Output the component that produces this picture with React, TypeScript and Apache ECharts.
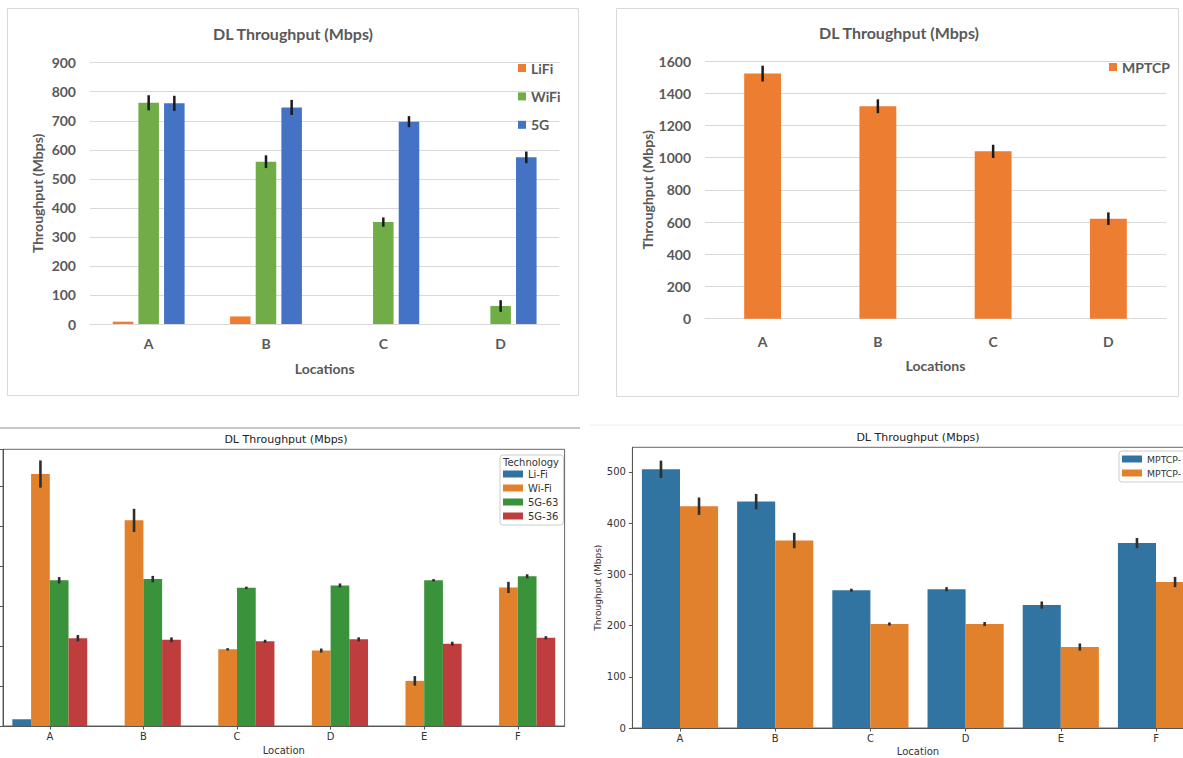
import React, { useEffect, useRef } from "react";
import * as echarts from "echarts";

// ---------- categories ----------
const locations4 = ["A", "B", "C", "D"];
const locations6 = ["A", "B", "C", "D", "E", "F"];

// ---------- panel 1 (top-left) ----------
const p1LiFi = [8, 26, 0, 0];
const p1WiFi = [762, 559, 351, 62];
const p1WiFiErr = [26, 22, 16, 20];
const p1FiveG = [760, 746, 697, 574];
const p1FiveGErr = [26, 26, 19, 20];
const p1Ticks = { min: 0, max: 900, interval: 100 };

// ---------- panel 2 (top-right) ----------
const p2Mptcp = [1522, 1319, 1039, 621];
const p2MptcpErr = [49, 43, 41, 39];
const p2Ticks = { min: 0, max: 1600, interval: 200 };

// ---------- panel 3 (bottom-left, tick labels cropped) ----------
const p3LiFi = [17, 0, 0, 0, 0, 0];
const p3WiFi = [631, 515, 192, 189, 113, 347];
const p3WiFiErr = [34, 29, 3, 5, 12, 14];
const p3G63 = [365, 368, 346, 352, 365, 375];
const p3G63Err = [8, 8, 3, 5, 3, 5];
const p3G36 = [220, 216, 212, 217, 206, 221];
const p3G36Err = [8, 6, 4, 5, 5, 4];
const p3Ticks = { min: 0, max: 693, interval: 100 };

// ---------- panel 4 (bottom-right) ----------
const p4First = [505, 442, 269, 271, 240, 361];
const p4FirstErr = [17, 15, 3, 4, 7, 10];
const p4Second = [433, 366, 203, 203, 158, 285];
const p4SecondErr = [17, 15, 3, 4, 7, 10];
const p4Ticks = { min: 0, max: 548, interval: 100 };

const TITLE = "DL Throughput (Mbps)";
const YNAME = "Throughput (Mbps)";

const XL = "Lato";
const MPL = "DejaVu Sans";
const xlText = { fontFamily: XL, fontSize: 14, fontWeight: "bold" as const, color: "#595959" };
const mplText = { fontFamily: MPL, fontSize: 10, color: "#333333" };

function errSeries(
  gridIdx: number,
  groups: { values: number[]; errs: number[]; slot: number }[],
  n: number,
  w: number,
  g: number,
  color: string,
  lw: number
) {
  const data: number[][] = [];
  groups.forEach((grp) => {
    grp.values.forEach((v, i) => {
      if (grp.errs[i] > 0 && v > 0) data.push([i, v, grp.errs[i], grp.slot]);
    });
  });
  return {
    type: "custom",
    xAxisIndex: gridIdx,
    yAxisIndex: gridIdx,
    z: 10,
    silent: true,
    encode: { x: 0, y: 1 },
    data,
    renderItem: (params: any, api: any) => {
      const i = api.value(0);
      const v = api.value(1);
      const e = api.value(2);
      const slot = api.value(3);
      const band = api.size([1, 0])[0];
      const bw = band * w;
      const gp = bw * g;
      const total = n * bw + (n - 1) * gp;
      const cx = api.coord([i, v])[0] - total / 2 + slot * (bw + gp) + bw / 2;
      const y1 = api.coord([i, v + e])[1];
      const y2 = api.coord([i, v - e])[1];
      return {
        type: "line",
        shape: { x1: cx, y1, x2: cx, y2 },
        style: { stroke: color, lineWidth: lw },
      };
    },
  };
}

function buildOption(): any {
  const bar = (name: string, data: number[], idx: number, color: string, barWidth: string, barGap: string) => ({
    type: "bar",
    name,
    data,
    xAxisIndex: idx,
    yAxisIndex: idx,
    barWidth,
    barGap,
    itemStyle: { color },
    silent: true,
  });

  const mplLegendText = { fontFamily: MPL, fontSize: 10, color: "#333333", lineHeight: 12 };
  const plain = (v: number) => String(v);

  return {
    animation: false,
    backgroundColor: "#ffffff",
    title: [
      { text: TITLE, left: 293, top: 33, textAlign: "center", textVerticalAlign: "middle", padding: 0, textStyle: { ...xlText, fontSize: 16 } },
      { text: TITLE, left: 899, top: 32, textAlign: "center", textVerticalAlign: "middle", padding: 0, textStyle: { ...xlText, fontSize: 16 } },
      { text: TITLE, left: 286, top: 439, textAlign: "center", textVerticalAlign: "middle", padding: 0, textStyle: { fontFamily: MPL, fontSize: 11, fontWeight: "normal", color: "#222222" } },
      { text: TITLE, left: 918, top: 437, textAlign: "center", textVerticalAlign: "middle", padding: 0, textStyle: { fontFamily: MPL, fontSize: 11, fontWeight: "normal", color: "#222222" } },
      { text: "Technology", left: 531, top: 462, textAlign: "center", textVerticalAlign: "middle", padding: 0, textStyle: { fontFamily: MPL, fontSize: 10, fontWeight: "normal", color: "#333333" } },
    ],
    legend: [
      {
        data: ["LiFi", "WiFi", "5G"],
        orient: "vertical",
        left: 518,
        top: 60,
        padding: 0,
        icon: "rect",
        itemWidth: 8,
        itemHeight: 8,
        itemGap: 12.4,
        selectedMode: false,
        textStyle: { ...xlText, lineHeight: 16 },
      },
      {
        data: ["MPTCP"],
        orient: "vertical",
        left: 1109,
        top: 59,
        padding: 0,
        icon: "rect",
        itemWidth: 8,
        itemHeight: 8,
        selectedMode: false,
        textStyle: { ...xlText, lineHeight: 16 },
      },
      {
        data: ["Li-Fi", "Wi-Fi", "5G-63", "5G-36"],
        orient: "vertical",
        left: 500,
        top: 455,
        padding: [13, 5, 3, 3],
        borderColor: "#cccccc",
        borderWidth: 1,
        borderRadius: 3,
        icon: "rect",
        itemWidth: 20,
        itemHeight: 7,
        itemGap: 2,
        selectedMode: false,
        textStyle: mplLegendText,
      },
      {
        data: ["MPTCP-1", "MPTCP-2"],
        formatter: () => "MPTCP-",
        orient: "vertical",
        left: 1119,
        top: 451,
        padding: [2, 5, 3, 3],
        borderColor: "#cccccc",
        borderWidth: 1,
        borderRadius: 3,
        icon: "rect",
        itemWidth: 20,
        itemHeight: 7,
        itemGap: 2,
        selectedMode: false,
        textStyle: { ...mplLegendText, fontSize: 9.3 },
      },
    ],
    grid: [
      { left: 90, top: 62.7, width: 469.3, height: 261.3, containLabel: false, outerBoundsMode: "none" },
      { left: 705, top: 61, width: 461, height: 257.7, containLabel: false, outerBoundsMode: "none" },
      { left: 3, top: 449.3, width: 561.6, height: 276.7, show: true, borderColor: "#666666", borderWidth: 1, containLabel: false, outerBoundsMode: "none" },
      { left: 632.4, top: 447.3, width: 571.2, height: 280.7, show: true, borderColor: "#666666", borderWidth: 1, containLabel: false, outerBoundsMode: "none" },
    ],
    xAxis: [
      {
        type: "category",
        gridIndex: 0,
        data: locations4,
        axisLine: { show: true, lineStyle: { color: "#d9d9d9", width: 1 } },
        axisTick: { show: false },
        axisLabel: { ...xlText, margin: 12 },
        name: "Locations",
        nameLocation: "middle",
        nameGap: 37,
        nameTextStyle: { ...xlText },
      },
      {
        type: "category",
        gridIndex: 1,
        data: locations4,
        axisLine: { show: true, lineStyle: { color: "#d9d9d9", width: 1 } },
        axisTick: { show: false },
        axisLabel: { ...xlText, margin: 16 },
        name: "Locations",
        nameLocation: "middle",
        nameGap: 40,
        nameTextStyle: { ...xlText },
      },
      {
        type: "category",
        gridIndex: 2,
        data: locations6,
        axisLine: { show: true, lineStyle: { color: "#555555", width: 1 } },
        axisTick: { show: true, alignWithLabel: true, length: 3.5, lineStyle: { color: "#555555" } },
        axisLabel: { ...mplText, margin: 5 },
        name: "Location",
        nameLocation: "middle",
        nameGap: 19,
        nameTextStyle: { ...mplText },
      },
      {
        type: "category",
        gridIndex: 3,
        data: locations6,
        axisLine: { show: true, lineStyle: { color: "#555555", width: 1 } },
        axisTick: { show: true, alignWithLabel: true, length: 3.5, lineStyle: { color: "#555555" } },
        axisLabel: { ...mplText, margin: 5 },
        name: "Location",
        nameLocation: "middle",
        nameGap: 18,
        nameTextStyle: { ...mplText },
      },
    ],
    yAxis: [
      {
        type: "value",
        gridIndex: 0,
        ...p1Ticks,
        axisLine: { show: false },
        axisTick: { show: false },
        splitLine: { show: true, lineStyle: { color: "#d9d9d9", width: 1 } },
        axisLabel: { ...xlText, margin: 14, formatter: plain },
        name: YNAME,
        nameLocation: "middle",
        nameRotate: 90,
        nameGap: 46,
        nameTextStyle: { ...xlText },
      },
      {
        type: "value",
        gridIndex: 1,
        ...p2Ticks,
        axisLine: { show: false },
        axisTick: { show: false },
        splitLine: { show: true, lineStyle: { color: "#d9d9d9", width: 1 } },
        axisLabel: { ...xlText, margin: 14, formatter: plain },
        name: YNAME,
        nameLocation: "middle",
        nameRotate: 90,
        nameGap: 51,
        nameTextStyle: { ...xlText },
      },
      {
        type: "value",
        gridIndex: 2,
        ...p3Ticks,
        axisLine: { show: true, lineStyle: { color: "#555555", width: 1 } },
        axisTick: { show: true, length: 3.5, lineStyle: { color: "#555555" } },
        splitLine: { show: false },
        axisLabel: { show: false },
      },
      {
        type: "value",
        gridIndex: 3,
        ...p4Ticks,
        axisLine: { show: true, lineStyle: { color: "#555555", width: 1 } },
        axisTick: { show: true, length: 3.5, lineStyle: { color: "#555555" } },
        splitLine: { show: false },
        axisLabel: { ...mplText, margin: 6.5, showMaxLabel: false, formatter: plain },
        name: YNAME,
        nameLocation: "middle",
        nameRotate: 90,
        nameGap: 27,
        nameTextStyle: { ...mplText, fontSize: 9 },
      },
    ],
    series: [
      bar("LiFi", p1LiFi, 0, "#ED7D31", "17.5%", "25%"),
      bar("WiFi", p1WiFi, 0, "#70AD47", "17.5%", "25%"),
      bar("5G", p1FiveG, 0, "#4472C4", "17.5%", "25%"),
      errSeries(0, [
        { values: p1WiFi, errs: p1WiFiErr, slot: 1 },
        { values: p1FiveG, errs: p1FiveGErr, slot: 2 },
      ], 3, 0.175, 0.25, "#1a1a1a", 2.5),

      bar("MPTCP", p2Mptcp, 1, "#ED7D31", "32%", "25%"),
      errSeries(1, [{ values: p2Mptcp, errs: p2MptcpErr, slot: 0 }], 1, 0.32, 0, "#1a1a1a", 2.5),

      bar("Li-Fi", p3LiFi, 2, "#3274a1", "20%", "0%"),
      bar("Wi-Fi", p3WiFi, 2, "#e1812c", "20%", "0%"),
      bar("5G-63", p3G63, 2, "#3a923a", "20%", "0%"),
      bar("5G-36", p3G36, 2, "#c03d3e", "20%", "0%"),
      errSeries(2, [
        { values: p3WiFi, errs: p3WiFiErr, slot: 1 },
        { values: p3G63, errs: p3G63Err, slot: 2 },
        { values: p3G36, errs: p3G36Err, slot: 3 },
      ], 4, 0.2, 0, "#2e2e2e", 2.6),

      bar("MPTCP-1", p4First, 3, "#3274a1", "40%", "0%"),
      bar("MPTCP-2", p4Second, 3, "#e1812c", "40%", "0%"),
      errSeries(3, [
        { values: p4First, errs: p4FirstErr, slot: 0 },
        { values: p4Second, errs: p4SecondErr, slot: 1 },
      ], 2, 0.4, 0, "#2e2e2e", 2.6),
    ],
    graphic: [
      { type: "rect", silent: true, z: -10, shape: { x: 7.5, y: 8.5, width: 571, height: 387 }, style: { fill: "none", stroke: "#d9d9d9", lineWidth: 1 } },
      { type: "rect", silent: true, z: -10, shape: { x: 616.5, y: 8.5, width: 562, height: 388 }, style: { fill: "none", stroke: "#d9d9d9", lineWidth: 1 } },
      { type: "line", silent: true, z: -10, shape: { x1: 0, y1: 428, x2: 580, y2: 428 }, style: { stroke: "#c8c8c8", lineWidth: 2 } },
      { type: "line", silent: true, z: -10, shape: { x1: 590, y1: 425, x2: 1183, y2: 425 }, style: { stroke: "#eeeeee", lineWidth: 1 } },
    ],
  };
}

export default function App() {
  const ref = useRef<HTMLDivElement | null>(null);
  useEffect(() => {
    if (!ref.current) return;
    const chart = echarts.init(ref.current, undefined, { renderer: "svg" });
    chart.setOption(buildOption());
    return () => chart.dispose();
  }, []);
  return (
    <div style={{ position: "fixed", left: 0, top: 0, width: 1183, height: 758, overflow: "hidden", background: "#ffffff" }}>
      <div ref={ref} style={{ width: 1183, height: 758 }} />
    </div>
  );
}
